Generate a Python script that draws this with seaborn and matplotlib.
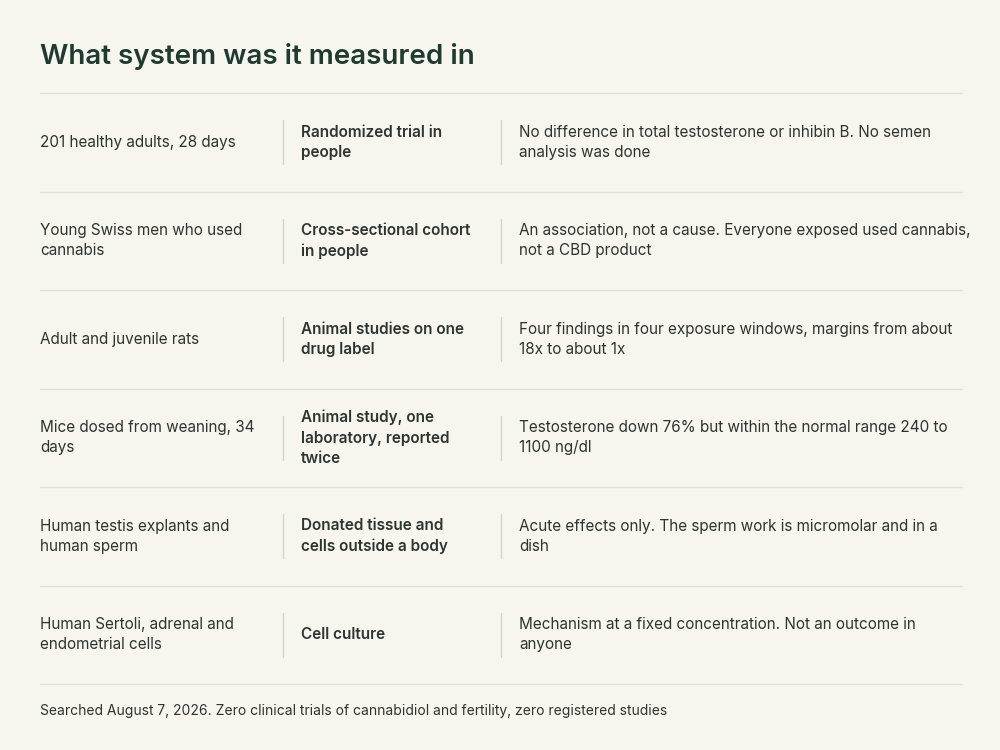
import matplotlib.pyplot as plt
import seaborn as sns

sns.set_theme(style='white', rc={"axes.facecolor": "#f7f6ee", "figure.facecolor": "#f7f6ee"})
plt.rcParams['font.family'] = ['Inter', 'DejaVu Sans']

title = 'What system was it measured in'
systems = ['201 healthy adults, 28 days',
           'Young Swiss men who used\ncannabis',
           'Adult and juvenile rats',
           'Mice dosed from weaning, 34\ndays',
           'Human testis explants and\nhuman sperm',
           'Human Sertoli, adrenal and\nendometrial cells']
designs = ['Randomized trial in\npeople',
           'Cross-sectional cohort\nin people',
           'Animal studies on one\ndrug label',
           'Animal study, one\nlaboratory, reported\ntwice',
           'Donated tissue and\ncells outside a body',
           'Cell culture']
caveats = ['No difference in total testosterone or inhibin B. No semen\nanalysis was done',
           'An association, not a cause. Everyone exposed used cannabis,\nnot a CBD product',
           'Four findings in four exposure windows, margins from about\n18x to about 1x',
           'Testosterone down 76% but within the normal range 240 to\n1100 ng/dl',
           'Acute effects only. The sperm work is micromolar and in a\ndish',
           'Mechanism at a fixed concentration. Not an outcome in\nanyone']
footnote = 'Searched August 7, 2026. Zero clinical trials of cannabidiol and fertility, zero registered studies'

fig = plt.figure(figsize=(10, 7.5), dpi=100)
ax = fig.add_axes([0, 0, 1, 1])
ax.set_xlim(0, 1000)
ax.set_ylim(750, 0)
ax.axis('off')

text_col = '#2e3430'
rule_col = '#e2e1d6'
ax.text(40, 57, title, fontsize=20, fontweight='semibold', color='#1f3a2e', va='center')

top, row_h = 93, 98.5
ax.plot([40, 962], [top, top], color=rule_col, lw=1)
for i, (s, d, c) in enumerate(zip(systems, designs, caveats)):
    yc = top + row_h * (i + 0.5)
    ax.text(40, yc, s, fontsize=11, color=text_col, va='center', linespacing=1.45)
    ax.text(301, yc, d, fontsize=11, color=text_col, va='center', fontweight='semibold', linespacing=1.45)
    ax.text(519, yc, c, fontsize=11, color=text_col, va='center', linespacing=1.45)
    for xv in (283, 501):
        ax.plot([xv, xv], [yc - 22, yc + 22], color='#d6d5ca', lw=1)
    yb = top + row_h * (i + 1)
    ax.plot([40, 962], [yb, yb], color=rule_col, lw=1)

ax.text(40, 711, footnote, fontsize=10, color=text_col, va='center')

fig.savefig('out.png', dpi=100)
